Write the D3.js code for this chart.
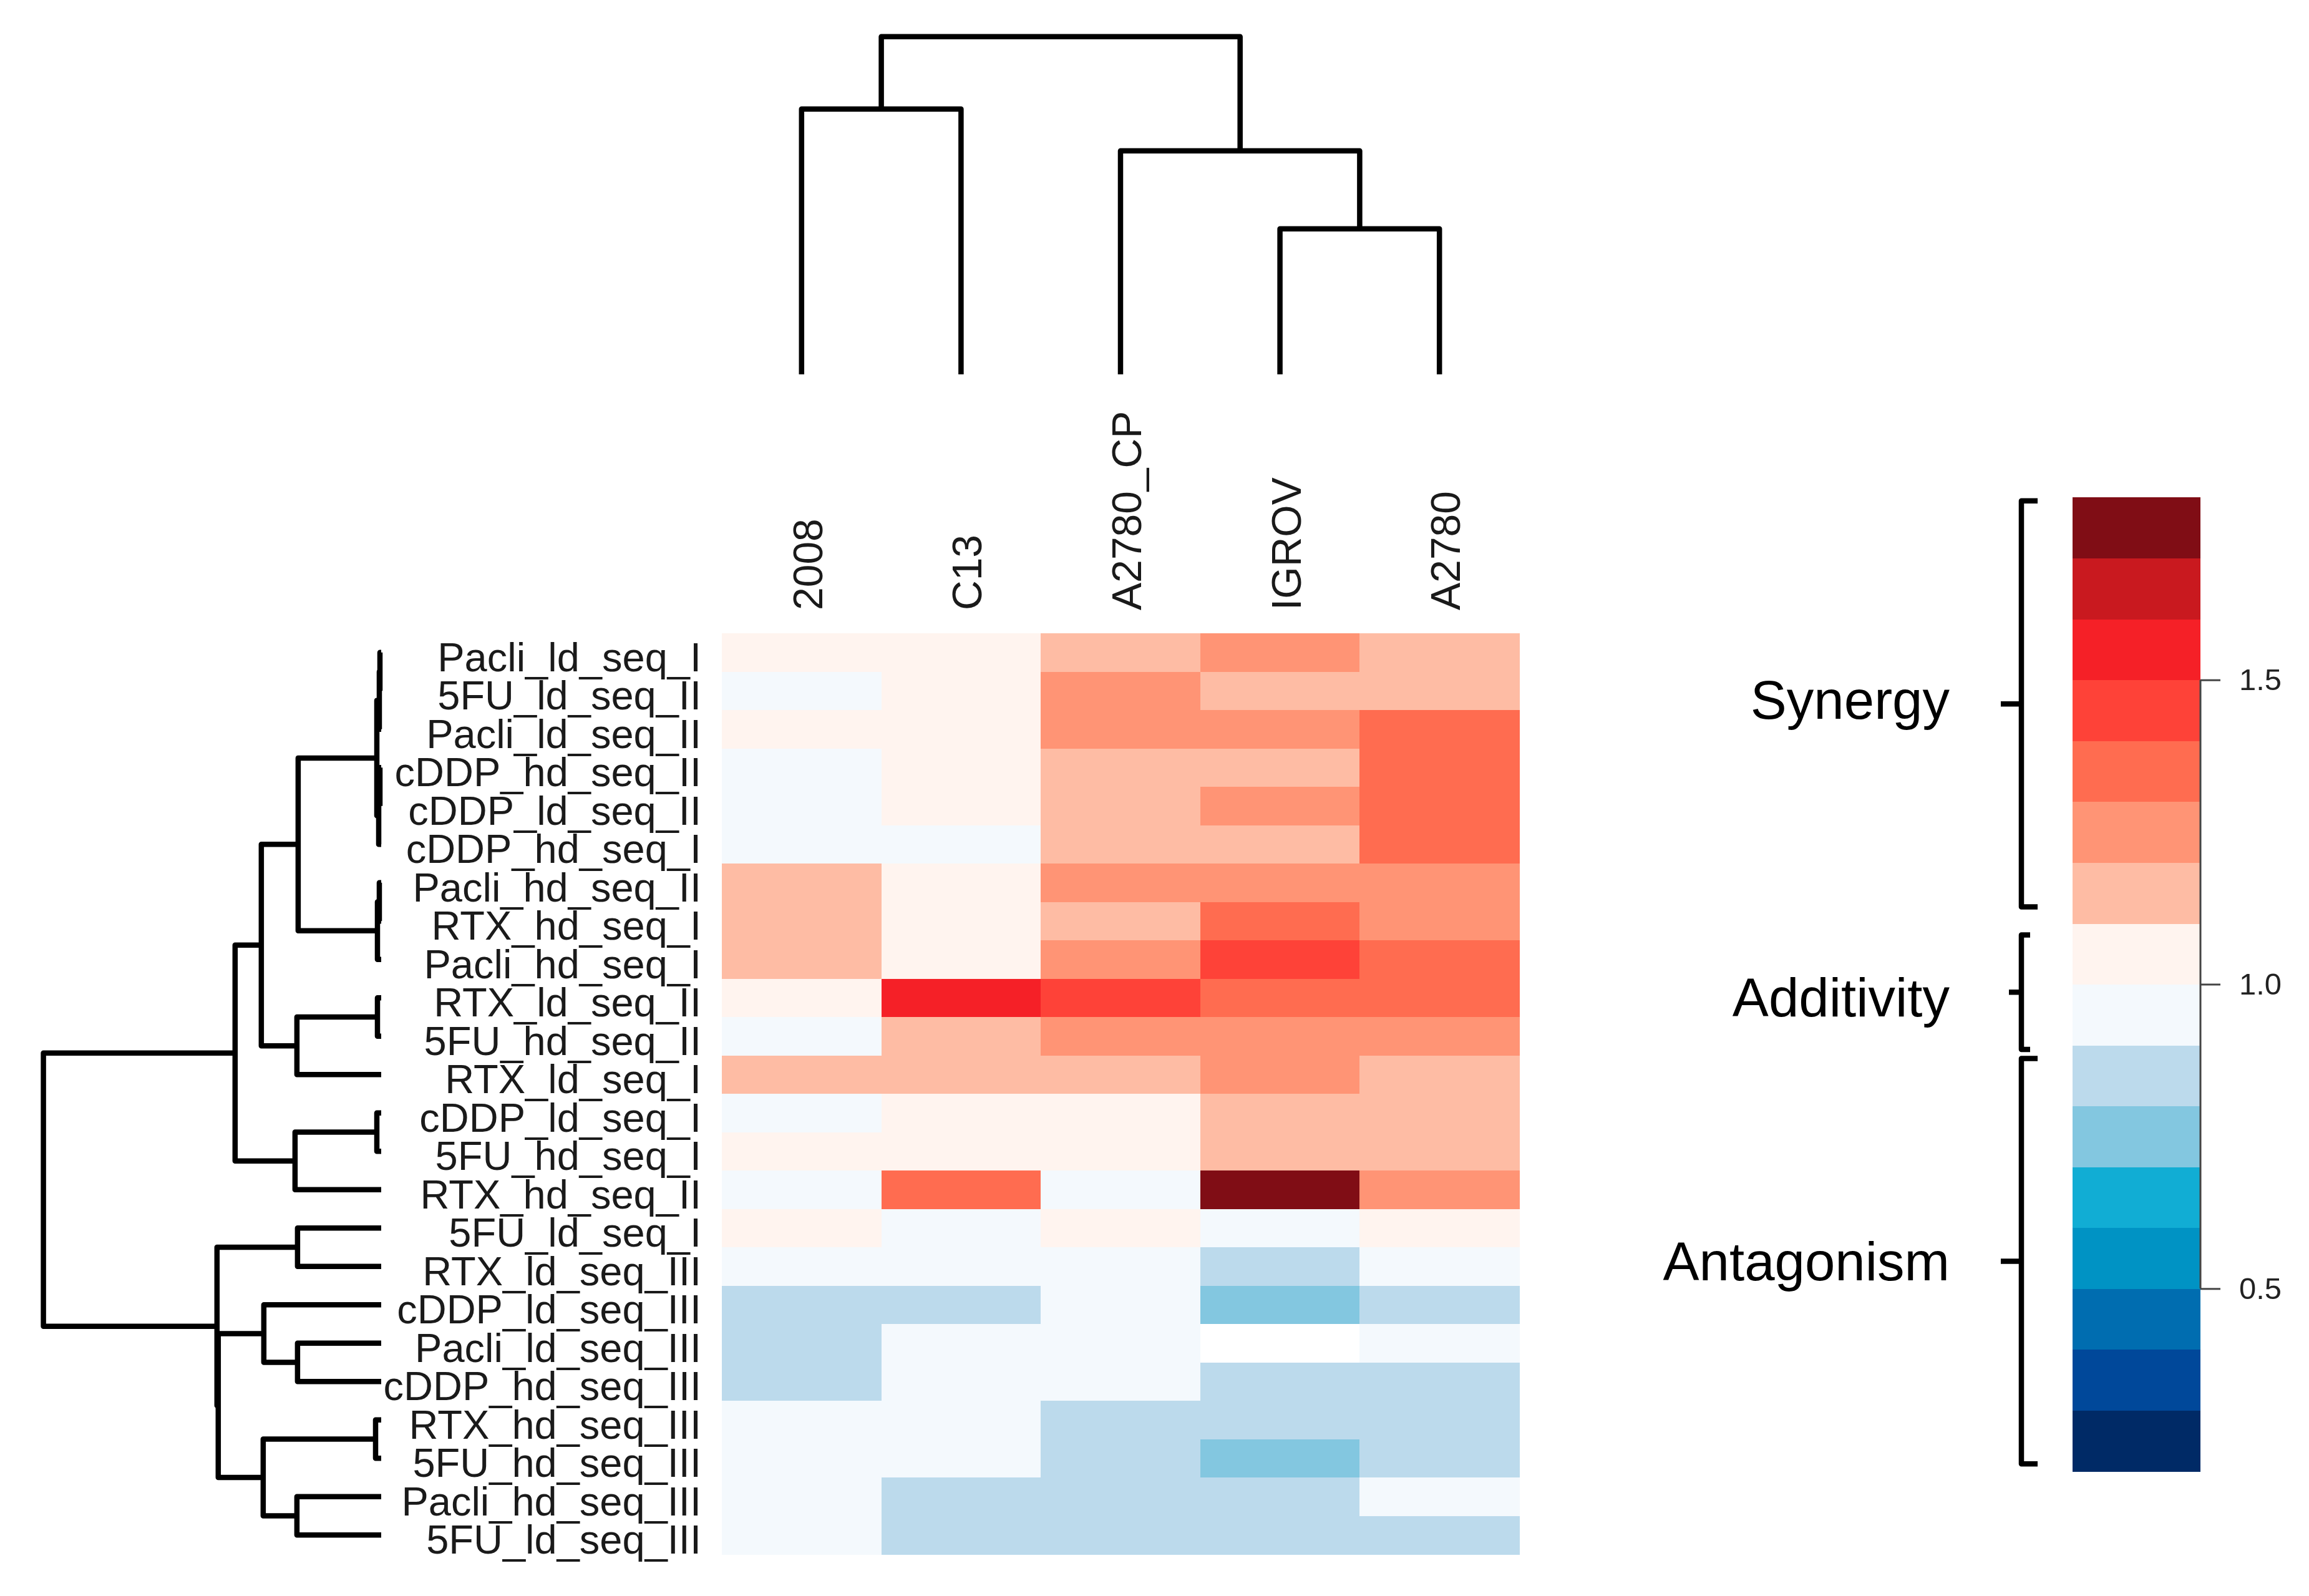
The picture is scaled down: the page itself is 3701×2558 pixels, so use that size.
<!DOCTYPE html>
<html>
<head>
<meta charset="utf-8">
<script src="https://cdn.jsdelivr.net/npm/d3@7"></script>
<style>html,body{margin:0;padding:0;background:#fff;}svg{display:block;}</style>
</head>
<body>
<svg id="chart" width="3701" height="2558"></svg>
<script>
// ---------------- DATA ----------------
const rowLabels = ["Pacli_ld_seq_I","5FU_ld_seq_II","Pacli_ld_seq_II","cDDP_hd_seq_II","cDDP_ld_seq_II","cDDP_hd_seq_I",
  "Pacli_hd_seq_II","RTX_hd_seq_I","Pacli_hd_seq_I","RTX_ld_seq_II","5FU_hd_seq_II","RTX_ld_seq_I","cDDP_ld_seq_I",
  "5FU_hd_seq_I","RTX_hd_seq_II","5FU_ld_seq_I","RTX_ld_seq_III","cDDP_ld_seq_III","Pacli_ld_seq_III","cDDP_hd_seq_III",
  "RTX_hd_seq_III","5FU_hd_seq_III","Pacli_hd_seq_III","5FU_ld_seq_III"];
const colLabels = ["2008","C13","A2780_CP","IGROV","A2780"];

// values per cell line (column), rows in the order above; null = missing
const values2008   = [1.05,0.95,1.05,0.95,0.95,0.95,1.15,1.15,1.15,1.05,0.95,1.15,0.95,1.05,0.95,1.05,0.95,0.85,0.85,0.85,0.95,0.95,0.95,0.95];
const valuesC13    = [1.05,1.05,1.05,1.05,1.05,0.95,1.05,1.05,1.05,1.55,1.15,1.15,1.05,1.05,1.35,0.95,0.95,0.85,0.95,0.95,0.95,0.95,0.85,0.85];
const valuesA2780CP= [1.15,1.25,1.25,1.15,1.15,1.15,1.25,1.15,1.25,1.45,1.25,1.15,1.05,1.05,0.95,1.05,0.95,0.95,0.95,0.95,0.85,0.85,0.85,0.85];
const valuesIGROV  = [1.25,1.15,1.25,1.15,1.25,1.15,1.25,1.35,1.45,1.35,1.25,1.25,1.15,1.15,1.75,0.95,0.85,0.75,null,0.85,0.85,0.75,0.85,0.85];
const valuesA2780  = [1.15,1.15,1.35,1.35,1.35,1.35,1.25,1.25,1.35,1.35,1.25,1.15,1.15,1.15,1.25,1.05,0.95,0.85,0.95,0.85,0.85,0.85,0.95,0.85];

// hierarchical clustering merges (hclust style: negative = leaf index, positive = earlier merge)
const rowMerge = [[-1,-2],[1,-3],[-4,-5],[3,-6],[2,4],[-7,-8],[6,-9],[5,7],[-10,-11],[9,-12],[8,10],
  [-13,-14],[12,-15],[11,13],[-16,-17],[-19,-20],[-18,16],[-21,-22],[-23,-24],[18,19],[17,20],[15,21],[14,22]];
const rowHeight = [0.02,0.03,0.02,0.04,0.07,0.03,0.06,1.33,0.06,1.35,1.92,0.07,1.38,2.34,1.34,1.34,1.88,0.09,1.35,1.89,2.61,2.63,5.41];
const colMerge = [[-4,-5],[-1,-2],[-3,1],[2,3]];
const colHeight = [2.33,4.25,3.58,5.41];

// colour key
const binEdges = [0.2,0.3,0.4,0.5,0.6,0.7,0.8,0.9,1.0,1.1,1.2,1.3,1.4,1.5,1.6,1.7,1.8];
const binColors = ["#002a66","#00489a","#006db0","#0093c4","#11add4","#83c7e0","#bcdaec","#f4f9fd",
                   "#fff4ef","#febca4","#ff9475","#ff6c50","#fe4238","#f52027","#c9191f","#800d15"];
const keyTicks = [0.5,1.0,1.5];
const keyGroups = ["Synergy","Additivity","Antagonism"];
const keyGroupRanges = [[1.794,1.127],[1.081,0.893],[0.878,0.212]];

// ---------------- DRAW ----------------
const FONT = "'Liberation Sans', Arial, Helvetica, sans-serif";
const svg = d3.select("#chart");
svg.append("rect").attr("width",3701).attr("height",2558).attr("fill","#fff");

const columns = [values2008, valuesC13, valuesA2780CP, valuesIGROV, valuesA2780];
const cells = [];
rowLabels.forEach((r,i)=>colLabels.forEach((c,j)=>cells.push({row:r,col:c,v:columns[j][i]})));

const x = d3.scaleBand().domain(colLabels).range([1157,2435]);
const y = d3.scaleBand().domain(rowLabels).range([1015,2491]);
const color = d3.scaleThreshold().domain(binEdges.slice(1,-1)).range(binColors);

svg.append("g").attr("shape-rendering","crispEdges")
  .selectAll("rect").data(cells).join("rect")
  .attr("x",d=>x(d.col)).attr("y",d=>y(d.row))
  .attr("width",x.bandwidth()+0.6).attr("height",y.bandwidth()+0.6)
  .attr("fill",d=>d.v==null?"#ffffff":color(d.v));

// row labels
svg.append("g").selectAll("text").data(rowLabels).join("text")
  .attr("x",1124).attr("y",d=>y(d)+y.bandwidth()/2+30)
  .attr("text-anchor","end").attr("font-family",FONT).attr("font-size",65).attr("fill","#1a1a1a")
  .text(d=>d);

// column labels
svg.append("g").selectAll("text").data(colLabels).join("text")
  .attr("transform",d=>`translate(${x(d)+x.bandwidth()/2+33},978) rotate(-90)`)
  .attr("text-anchor","start").attr("font-family",FONT).attr("font-size",66).attr("fill","#1a1a1a")
  .text(d=>d);

// dendrogram layout
function layout(merge, heights, leafPos){
  const nodes=[];
  const get=k=>k<0?{p:leafPos(-k),h:0}:nodes[k-1];
  merge.forEach((m,i)=>{const a=get(m[0]),b=get(m[1]);nodes.push({p:(a.p+b.p)/2,h:heights[i],a,b});});
  return nodes;
}
const rowH = d3.scaleLinear().domain([0,d3.max(rowHeight)]).range([611,69.6]);
const rowNodes = layout(rowMerge,rowHeight,i=>y(rowLabels[i-1])+y.bandwidth()/2);
svg.append("g").selectAll("path").data(rowNodes).join("path")
  .attr("d",n=>`M${rowH(n.a.h)},${n.a.p}H${rowH(n.h)}V${n.b.p}H${rowH(n.b.h)}`)
  .attr("fill","none").attr("stroke","#000").attr("stroke-width",8.5)
  .attr("stroke-linejoin","round").attr("stroke-linecap","butt");

const colH = d3.scaleLinear().domain([0,d3.max(colHeight)]).range([600,58.7]);
const colNodes = layout(colMerge,colHeight,i=>x(colLabels[i-1])+x.bandwidth()/2);
svg.append("g").selectAll("path").data(colNodes).join("path")
  .attr("d",n=>`M${n.a.p},${colH(n.a.h)}V${colH(n.h)}H${n.b.p}V${colH(n.b.h)}`)
  .attr("fill","none").attr("stroke","#000").attr("stroke-width",8.5)
  .attr("stroke-linejoin","round").attr("stroke-linecap","butt");

// colour key
const kY = d3.scaleLinear().domain([d3.max(binEdges),d3.min(binEdges)]).range([797,2358]);
const bins = binColors.map((c,i)=>({lo:binEdges[i],hi:binEdges[i+1],c}));
svg.append("g").attr("shape-rendering","crispEdges").selectAll("rect").data(bins).join("rect")
  .attr("x",3322).attr("width",205)
  .attr("y",d=>kY(d.hi)).attr("height",d=>kY(d.lo)-kY(d.hi)+0.6)
  .attr("fill",d=>d.c);

const axis = d3.axisRight(kY).tickValues(keyTicks).tickFormat(d3.format(".1f")).tickSize(32).tickPadding(30);
const gAx = svg.append("g").attr("transform","translate(3527,0)").call(axis);
gAx.select(".domain").remove();
gAx.selectAll(".tick line").attr("stroke","#444").attr("stroke-width",3);
gAx.selectAll(".tick text").attr("font-family",FONT).attr("font-size",49).attr("fill","#222");
gAx.append("line").attr("x1",0).attr("x2",0)
  .attr("y1",kY(d3.max(keyTicks))).attr("y2",kY(d3.min(keyTicks)))
  .attr("stroke","#444").attr("stroke-width",3);

// brackets
const brX = 3240, serif = [26,14,26], tick = [33,20,33], textDy = [24,39,31];
const gb = svg.append("g");
keyGroups.forEach((g,i)=>{
  const [a,b] = keyGroupRanges[i];
  const y0=kY(a), y1=kY(b), ym=(y0+y1)/2;
  gb.append("path")
    .attr("d",`M${brX+serif[i]},${y0}H${brX}V${y1}H${brX+serif[i]}M${brX},${ym}H${brX-tick[i]}`)
    .attr("fill","none").attr("stroke","#000").attr("stroke-width",8.5).attr("stroke-linejoin","round");
  gb.append("text").attr("x",3125).attr("y",ym+textDy[i]).attr("text-anchor","end")
    .attr("font-family",FONT).attr("font-size",87).attr("fill","#000").text(g);
});
</script>
</body>
</html>
